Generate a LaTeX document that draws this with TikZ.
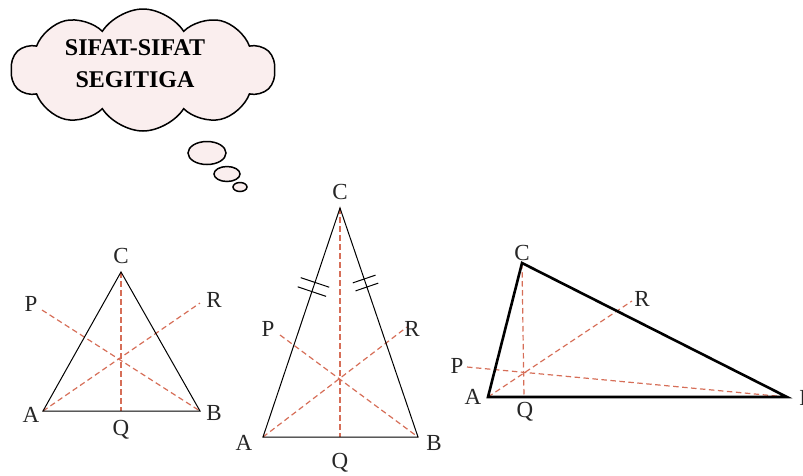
\documentclass[tikz,border=0pt]{standalone}
\usepackage{fontspec}
\setmainfont{Liberation Serif}
\usetikzlibrary{shapes.symbols,shapes.geometric,calc}
\definecolor{dashred}{RGB}{214,110,88}
\definecolor{cloudpink}{RGB}{250,238,238}
\tikzset{
  side/.style={draw=black, line width=1pt},
  thickside/.style={draw=black, line width=2.6pt, line join=miter},
  med/.style={draw=dashred, line width=1.2pt, dash pattern=on 5.5pt off 3.5pt},
  lbl/.style={font=\fontsize{23}{26}\selectfont, text=black!85, inner sep=0pt},
  bubble/.style={draw=black, line width=1.5pt, fill=cloudpink},
  tick/.style={draw=black, line width=1pt}
}
\begin{document}
\begin{tikzpicture}[x=1pt,y=-1pt]
\useasboundingbox (0,0) rectangle (803,475);
% cloud
\node[cloud, cloud puffs=10, cloud puff arc=115, aspect=2.2, bubble, minimum width=264pt, minimum height=122pt, inner sep=0pt] (cloud) at (143,70) {};
\node[font=\bfseries\fontsize{24}{32}\selectfont, align=center, inner sep=0pt] (title) at (135,64) {SIFAT-SIFAT\\SEGITIGA};
\node[ellipse, bubble, minimum width=38pt, minimum height=23pt, inner sep=0pt] (b1) at (207,153) {};
\node[ellipse, bubble, minimum width=26pt, minimum height=15pt, inner sep=0pt] (b2) at (227,174) {};
\node[ellipse, bubble, minimum width=14pt, minimum height=9pt, inner sep=0pt] (b3) at (240,187) {};

% triangle 1
\coordinate (aA) at (43,411);
\coordinate (aB) at (200,411);
\coordinate (aC) at (121,272);
\coordinate (aQ) at (121,411);
\coordinate (aP) at (42,310);
\coordinate (aR) at (200,303);
\draw[med] (aC) -- (aQ);
\draw[med] (aP) -- (aB);
\draw[med] (aA) -- (aR);
\draw[side] (aA) -- (aB) -- (aC) -- cycle;
\node[lbl] (laC) at (121,256) {C};
\node[lbl] (laP) at (31,304) {P};
\node[lbl] (laR) at (214,300) {R};
\node[lbl] (laA) at (31,415) {A};
\node[lbl] (laB) at (214,413) {B};
\node[lbl] (laQ) at (121,430) {Q};

% triangle 2
\coordinate (bA) at (263,437);
\coordinate (bB) at (418,437);
\coordinate (bC) at (340,208);
\coordinate (bQ) at (340,437);
\coordinate (bP) at (280,335);
\coordinate (bR) at (407,327);
\draw[med] (bC) -- (bQ);
\draw[med] (bP) -- (bB);
\draw[med] (bA) -- (bR);
\draw[side] (bA) -- (bB) -- (bC) -- cycle;
\foreach \f in {0.635,0.675}{
  \coordinate (m) at ($(bA)!\f!(bC)$);
  \draw[tick] ($(m)!15pt!90:(bC)$) -- ($(m)!15pt!-90:(bC)$);
}
\foreach \f in {0.655,0.69}{
  \coordinate (m) at ($(bB)!\f!(bC)$);
  \draw[tick] ($(m)!12pt!90:(bC)$) -- ($(m)!12pt!-90:(bC)$);
}
\node[lbl] (lbC) at (340,192) {C};
\node[lbl] (lbP) at (268,329) {P};
\node[lbl] (lbR) at (412,329) {R};
\node[lbl] (lbA) at (244,443) {A};
\node[lbl] (lbB) at (434,443) {B};
\node[lbl] (lbQ) at (340,463) {Q};

% triangle 3
\coordinate (cA) at (488,397);
\coordinate (cB) at (787,397);
\coordinate (cC) at (522,263);
\coordinate (cQ) at (524,397);
\coordinate (cP) at (467,367);
\coordinate (cR) at (632,301);
\draw[med] (cC) -- (cQ);
\draw[med] (cP) -- (cB);
\draw[med] (cA) -- (cR);
\draw[thickside] (cA) -- (cB) -- (cC) -- cycle;
\node[lbl] (lcC) at (522,253) {C};
\node[lbl] (lcP) at (457,366) {P};
\node[lbl] (lcR) at (642,299) {R};
\node[lbl] (lcA) at (473,397) {A};
\node[lbl] (lcB) at (807,398) {B};
\node[lbl] (lcQ) at (525,412) {Q};
\end{tikzpicture}
\end{document}
